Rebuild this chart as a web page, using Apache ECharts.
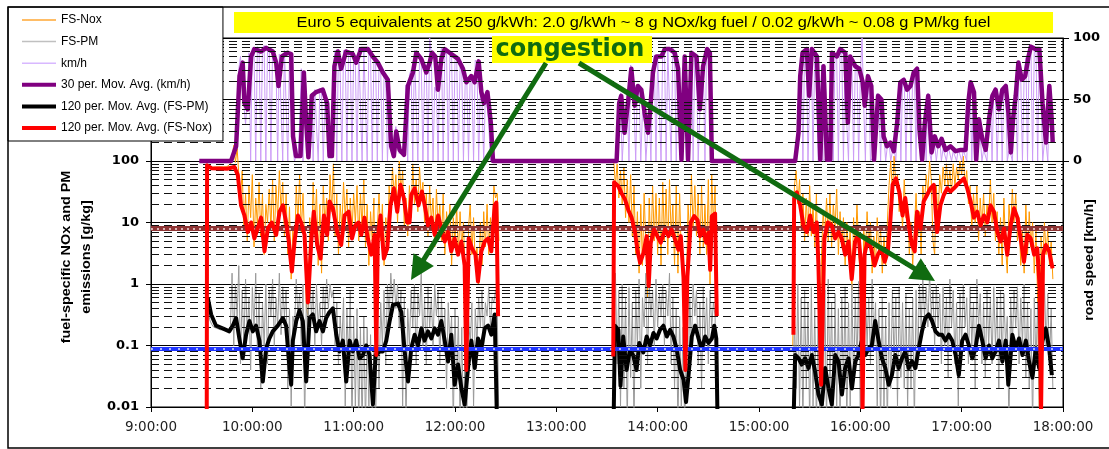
<!DOCTYPE html>
<html><head><meta charset="utf-8">
<script src="https://cdn.jsdelivr.net/npm/echarts@6/dist/echarts.min.js"></script>
<style>html,body{margin:0;padding:0;background:#fff}#c{width:1109px;height:449px}</style>
</head><body><div id="c"></div>
<script>
// x values: minutes after 9:00:00
const hourTicks = ['9:00:00','10:00:00','11:00:00','12:00:00','13:00:00','14:00:00','15:00:00','16:00:00','17:00:00','18:00:00'];
const noxLimit = 8;     // g NOx / kg fuel
const pmLimit = 0.09;   // g PM / kg fuel

// 30 per. moving average of road speed (km/h)
const speedAvg = [[28.6,0],[47.4,0],[50.4,12],[52.4,69],[54.3,80],[55.3,47],[57.3,42],[59.3,85],[61.2,91],[65.2,89],[68.2,92],[72.1,89],[74.1,80],[75.5,61],[77.5,85],[81,88],[83,87],[84.1,20],[85.9,4],[88.5,4],[90.5,72],[91.8,34],[93.2,3],[95.2,53],[97.7,56],[101.7,58],[104.3,47],[105.7,4],[107.1,4],[108.6,77],[110.6,89],[112.6,75],[115.5,89],[119.5,87],[121.5,80],[124.4,91],[128.4,91],[131.3,85],[134.3,80],[137.3,72],[140.2,66],[142.2,12],[143.8,4],[145.2,24],[147.2,9],[149.8,5],[152.1,61],[155.1,72],[157.1,88],[160,83],[163,72],[165,80],[166.4,88],[168.3,85],[169.9,58],[171.9,83],[173.9,91],[177.8,87],[181.8,83],[184.7,75],[186.7,64],[189.6,69],[191.6,64],[194,81],[195.6,56],[197.2,47],[199.2,56],[201.2,31],[202.5,0],
[275.7,0],[277.2,47],[278.4,53],[280.4,23],[282.4,47],[284.4,75],[286.4,45],[288.3,61],[290.3,58],[292.3,39],[294.3,23],[295.6,42],[297.2,72],[299.2,85],[302.2,85],[304.2,91],[307.1,91],[310.1,88],[312.1,75],[314.1,1],[316,85],[318,1],[320,88],[323,85],[325,42],[326.9,77],[329.3,91],[330.9,88],[332.1,0],
[381.4,0],[383.4,23],[384.4,69],[385.8,88],[388.3,91],[389.7,53],[391.3,91],[394.3,85],[396.3,1],[398.2,77],[400.2,1],[402.2,1],[403.2,88],[406.1,85],[408.1,91],[411.1,88],[412.6,31],[414,85],[417,77],[419.4,75],[421.4,64],[422.6,45],[424.5,69],[426.5,61],[428.1,1],[430.5,53],[432.5,50],[433.8,20],[435.8,12],[437.8,15],[439.8,8],[441.8,31],[443.7,64],[445.7,66],[447.7,58],[449.7,61],[451.6,72],[453.6,75],[455,26],[456.6,1],[458.2,31],[460.2,53],[462.2,7],[464.1,20],[466.1,12],[468.1,18],[470.5,9],[473.4,12],[476.4,8],[479.4,9],[482.3,9],[483.9,47],[485.3,64],[487.3,56],[488.6,1],[490.2,34],[492.2,18],[494.2,9],[496.2,34],[498.2,53],[500.1,58],[502.1,42],[504.1,58],[506.1,61],[507.7,39],[509.1,7],[510.4,34],[512,53],[513.6,80],[515.6,66],[517.6,69],[519.6,85],[521,93],[523.6,91],[526,91],[527.9,47],[529.9,15],[531.9,61],[533.3,34],[533.9,15]];

// 120 per. moving average FS-NOx (g/kg), three trips
const noxAvg1 = [[33,0.005],[33.2,85],[36,76],[45,75],[49.4,80],[51.4,59],[53.3,19],[55.3,13],[57.3,7],[59.3,10],[61.2,5.5],[63.2,8],[65.2,12],[67.2,3.4],[69.2,8],[71.5,10],[74.1,6.3],[76.1,15],[78.1,19],[80,10],[81.6,4.9],[83.4,1.6],[85,4.9],[87,13],[88.9,10],[90.9,6.3],[92.9,0.5],[94.9,4.9],[96.4,15],[98.4,4.3],[100.4,2.6],[102.4,13],[104.3,6.3],[105.7,22],[107.7,17],[110.3,7],[112.6,4.3],[114.6,13],[117,15],[119,5.5],[121,9],[122.9,10],[124.5,6.3],[126.4,12],[128.4,5.5],[130.4,3],[132.4,6.3],[133.4,0.07],[134.3,5.5],[135.9,13],[137.9,2.6],[139.9,3.8],[141.8,19],[143.8,36],[145.8,15],[147.7,41],[149.7,25],[151.7,10],[153.1,10],[154.1,28],[156.1,36],[158.4,19],[160.4,32],[162.4,17],[164,9],[166,12],[168,6.3],[170,13],[171.9,8],[173.9,4.9],[175.9,7],[177.8,3.4],[179.8,5.5],[181.8,3],[183.8,4.9],[185.7,2],[186.7,0.04],[188.1,5.5],[190.1,3.8],[192.1,3],[193.6,1.1],[195.6,3.4],[197.6,4.9],[199.6,5.5],[201.5,3.4],[203.5,19],[204.5,21],[205.5,0.3]];
const noxAvg2 = [[273.7,0.066],[274.2,45],[276.7,39],[278.6,30],[280.6,24],[282.6,16],[284.6,12],[286.6,6.8],[288,3.6],[289.6,2.2],[291.6,3.2],[293.5,6],[294.7,0.93],[295.9,4.7],[297.9,7.7],[299.8,6],[301.8,4.7],[304.4,7.7],[306.4,6],[308.3,7.7],[310.3,5.3],[312.3,3.6],[313.7,6],[315.3,1.3],[316.4,0.04],[317.6,1.3],[319.6,10],[321.6,12.7],[323.6,11],[325.1,6],[327.1,7.7],[328.7,4.7],[330.1,6.8],[331.1,1.7],[332.1,12.7],[334,14],[335,0.3]];
const noxAvg3 = [[380.4,0.15],[380.8,25],[382.4,31],[384.4,19],[386.3,9],[388.3,7],[390.3,13],[392.3,7],[394.2,10],[395.2,2],[396.8,0.023],[398.7,5.5],[400.7,10],[403.1,9],[405.1,5.5],[407,7],[409,5.5],[411,3],[413,4.9],[414.9,1.2],[416.9,4.9],[418.9,6.3],[420.5,2],[421.3,0.008],[422.5,3],[424.5,5.5],[426.4,3.8],[428.4,2],[430.4,3],[432.4,3.8],[434.4,2.3],[436.3,3.4],[437.7,10],[439.1,41],[441.1,52],[443.1,31],[445,13],[446.6,25],[448.6,9],[450.6,4.3],[452.2,3.4],[453.6,15],[455.6,8],[457.5,22],[459.5,28],[461.5,36],[463.5,41],[465.5,7],[467.4,19],[469.4,28],[471.4,36],[473.4,32],[475.4,36],[477.3,41],[479.3,46],[481.3,52],[483.3,36],[485.3,22],[487.2,12],[489.2,15],[491.2,9],[493.2,13],[495.2,10],[497.1,19],[499.1,15],[501.1,7],[503.1,4.9],[505.1,8],[507,3],[509,9],[511,17],[513,12],[514.9,5.5],[516.9,2.3],[518.9,6.3],[520.9,5.5],[522.9,3],[524.8,3.8],[526.2,0.85],[527,0.008],[528.2,3],[529.8,4.3],[531.8,3.4],[533.8,1.8]];

// 120 per. moving average FS-PM (g/kg), three trips
const pmAvg1 = [[33.6,0.6],[35.6,0.32],[38.5,0.21],[42.4,0.19],[46.4,0.17],[48.4,0.21],[50.4,0.28],[52.3,0.13],[54.3,0.062],[56.3,0.15],[58.3,0.25],[60.3,0.17],[62.2,0.21],[64.2,0.12],[66.2,0.026],[68.2,0.09],[70.1,0.13],[72.1,0.17],[75.1,0.21],[78.1,0.28],[80,0.21],[82,0.043],[83,0.023],[84,0.12],[86,0.25],[87.9,0.37],[89.9,0.25],[91.9,0.026],[93.9,0.28],[95.8,0.32],[97.8,0.17],[99.8,0.25],[101.8,0.17],[103.7,0.28],[105.7,0.35],[107.7,0.4],[109.7,0.15],[111.6,0.08],[113.6,0.12],[115.6,0.026],[117.6,0.12],[119.5,0.08],[121.5,0.12],[123.5,0.062],[125.5,0.07],[127.4,0.1],[129.4,0.07],[131.4,0.011],[133,0.07],[135.4,0.08],[137.3,0.08],[139.3,0.12],[141.3,0.25],[143.3,0.46],[146.2,0.48],[148.2,0.35],[150.2,0.08],[152.2,0.026],[154.1,0.09],[156.1,0.15],[158.1,0.1],[160.1,0.19],[162,0.12],[164,0.17],[166,0.13],[168,0.19],[169.9,0.15],[171.9,0.25],[173.9,0.12],[175.9,0.055],[177.8,0.15],[179.8,0.023],[181.8,0.049],[183.8,0.02],[185.7,0.011],[187.7,0.043],[189.7,0.12],[191.7,0.043],[193.6,0.13],[195.6,0.09],[197.6,0.19],[199.6,0.21],[201.5,0.15],[203.5,0.32],[204.9,0.005]];
const pmAvg2 = [[273.9,0.005],[274.7,0.21],[276.7,0.18],[278,0.022],[279.6,0.14],[281.6,0.04],[283.6,0.086],[285.6,0.068],[287.5,0.04],[289.1,0.11],[291.5,0.077],[293.5,0.14],[295.5,0.1],[297.5,0.16],[299.4,0.13],[301.4,0.18],[303.4,0.21],[305.4,0.14],[307.4,0.18],[309.3,0.14],[311.3,0.086],[313.3,0.04],[315.3,0.028],[316.8,0.012],[318.4,0.036],[320.2,0.14],[322.2,0.21],[324.2,0.13],[326.1,0.086],[328.1,0.14],[330.1,0.11],[332.1,0.13],[333.5,0.21],[334.7,0.13],[335.5,0.005]];
const pmAvg3 = [[380.4,0.005],[381.4,0.07],[383.4,0.062],[385.3,0.049],[387.3,0.062],[389.3,0.043],[391.3,0.07],[393.2,0.038],[395.2,0.016],[397.2,0.011],[399.2,0.043],[401.2,0.02],[403.1,0.011],[405.1,0.07],[407.1,0.055],[409.1,0.016],[411,0.043],[413,0.062],[415,0.02],[417,0.055],[418.9,0.07],[420.9,0.12],[422.9,0.07],[424.9,0.09],[426.8,0.1],[428.8,0.25],[430.8,0.12],[432.8,0.062],[434.8,0.043],[436.8,0.023],[438.7,0.033],[440.7,0.07],[442.7,0.043],[444.7,0.062],[446.6,0.08],[448.6,0.043],[450.6,0.055],[452.6,0.043],[454.6,0.09],[456.5,0.17],[458.5,0.28],[460.5,0.32],[462.5,0.25],[464.5,0.17],[466.4,0.15],[468.4,0.15],[470.4,0.12],[472.4,0.15],[474.4,0.12],[476.4,0.07],[478.3,0.033],[480.3,0.12],[482.3,0.15],[484.3,0.1],[486.3,0.062],[488.2,0.09],[490.2,0.21],[492.2,0.12],[494.2,0.062],[496.2,0.1],[498.1,0.062],[500.1,0.08],[502.1,0.12],[504.1,0.055],[506.1,0.12],[507.6,0.023],[510,0.15],[512,0.09],[514,0.13],[516,0.07],[518,0.12],[519.9,0.055],[521.9,0.03],[523.9,0.09],[525.9,0.043],[527.9,0.12],[529.8,0.19],[531.8,0.09],[533.4,0.033]];

// raw 1-minute readings, per trip: start minute + values
const speedRaw1Start = 47;
const speedRaw1 = [0,5,10,15,40,75,85,60,45,30, 50,88,0,92,90,0,93,91,0,92, 94,0,90,92,0,91,90,82,0,87, 88,0,90,89,0,88,60,10,0,5, 3,30,75,0,60,20,2,45,55,0, 58,57,0,59,56,0,50,45,2,3, 5,78,90,0,91,72,0,90,88,0, 90,86,0,88,80,0,92,91,0,92, 93,0,90,86,0,83,80,0,78,75, 0,70,66,0,40,10,3,20,28,12, 6,10,4,30,62,0,70,74,0,90, 89,0,85,82,0,73,78,0,100,86, 0,60,55,0,85,92,0,90,88,0, 87,85,0,82,84,0,76,74,0,62, 66,0,70,66,0,82,80,0,57,48, 0,55,45,30,0,2,0];
const speedRaw2Start = 276;
const speedRaw2 = [0,45,55,0,25,40,50,0,78,60, 45,0,62,58,0,40,38,0,22,40, 0,72,86,0,85,86,0,90,92,0, 91,90,0,92,88,0,75,40,1,60, 86,0,2,50,88,0,86,84,0,40, 70,78,0,92,90,88,2,0];
const speedRaw3Start = 381;
const speedRaw3 = [0,10,30,72,88,0,90,92,0,55, 92,0,88,84,0,2,78,0,1,2, 0,1,88,0,86,84,0,92,90,0, 88,30,0,86,80,0,78,76,0,70, 100,45,0,70,62,0,2,1,0,55, 52,0,48,20,0,12,15,0,8,10, 0,30,65,0,66,68,0,58,62,0, 72,74,0,75,26,0,1,31,0,55, 7,0,20,14,0,12,18,0,10,9, 0,12,13,0,8,9,0,10,9,0, 9,10,0,48,64,0,56,1,0,34, 20,0,9,10,0,34,52,0,58,60, 0,42,58,0,60,62,0,8,6,0, 34,55,0,80,66,0,70,84,0,92, 94,0,90,92,0,91,48,0,16,14, 0,60,34,15];

const noxRaw1Start = 33;
const noxRaw1 = [80,82,78,80,79,81,80,78,80,82, 80,79,81,84,90,120,180,95,160,60, 25,70,8,30,5,40,12,60,4,25, 9,45,6,30,3,20,10,35,8,50, 5,40,12,70,15,45,6,30,3,18, 1.2,8,3,40,10,60,7,30,5,0.4, 0.3,12,3,45,8,35,2,20,1.5,40, 9,25,5,60,15,90,6,30,3,20, 8,45,12,35,4,25,7,30,10,40, 5,30,8,50,4,20,2,15,5,25, 0.1,8,30,5,20,2,12,4,40,15, 80,25,60,10,100,30,70,8,25,6, 40,12,90,20,50,15,80,25,45,10, 30,6,40,10,25,4,35,8,20,5, 30,3,15,6,20,2,12,5,18,3, 15,4,10,1.5,0.05,8,20,3,12,2, 4,1,10,2,15,4,20,3,12,5, 40,25,30,5];
const noxRaw2Start = 274;
const noxRaw2 = [100,40,90,25,70,20,80,12,50,10, 60,6,40,3,15,1.5,20,2,30,4, 0.6,25,3,40,5,30,3,25,2,45, 5,35,3,50,6,20,2,40,1.5,30, 3,0.8,0.05,1,20,5,60,8,40,6, 30,3,40,4,20,3,50,1,60,10, 40,0.3];
const noxRaw3Start = 380;
const noxRaw3 = [0.1,40,70,20,50,8,30,5,25,6, 40,6,20,4,30,1,0.03,3,15,6, 25,5,30,4,20,8,35,3,15,4, 12,2,10,3,8,0.8,12,3,20,4, 1,0.01,8,3,15,4,10,1.5,6,2, 12,3,8,1.5,6,2,10,40,100,30, 120,40,60,15,30,8,50,12,20,3, 10,2,8,30,6,15,3,40,20,60, 30,100,50,5,3,40,10,60,30,80, 40,90,35,70,30,90,40,80,50,100, 60,120,40,70,20,40,8,30,10,40, 5,25,8,30,6,20,12,50,10,30, 5,15,3,12,2,25,4,1.5,20,8, 35,10,30,5,12,2,8,1.5,20,3, 15,4,10,1.5,8,0.5,0.01,6,2,10, 3,8,2,5,1.2];

const pmRaw1Start = 33;
const pmRaw1 = [0.55,0.33,0.25,0.22,0.2,0.2,0.19,0.19,0.18,0.18, 0.18,0.17,0.17,0.17,0.2,1.5,0.1,1,0.3,2, 0.05,0.8,0.1,1.2,0.15,0.6,0.04,0.9,0.2,1.5, 0.08,0.7,0.02,0.5,0.1,1,0.05,0.8,0.3,1.2, 0.1,0.6,0.2,1.5,0.15,0.9,0.3,0.8,0.02,0.4, 0.01,0.3,0.2,1.2,0.3,0.7,0.1,1,0.005,0.6, 0.2,1.5,0.3,0.8,0.1,1,0.2,0.5,0.1,0.9, 0.3,1.2,0.4,1,0.6,0.8,0.1,0.5,0.05,0.3, 0.1,0.6,0.01,0.4,0.05,0.8,0.005,0.3,0.01,0.4, 0.005,0.2,0.005,0.3,0.005,0.2,0.01,0.15,0.005,0.1, 0.005,0.3,0.02,0.5,0.1,0.8,0.05,1,0.3,1.5, 0.5,1.2,0.4,1,0.2,0.8,0.01,0.6,0.005,0.4, 0.1,0.8,0.2,1,0.05,0.7,0.3,1.5,0.1,0.6, 0.05,0.9,0.2,0.6,0.1,1,0.3,0.8,0.05,0.6, 0.1,0.4,0.02,0.5,0.1,0.3,0.005,0.4,0.02,0.3, 0.005,0.2,0.005,0.1,0.005,0.3,0.1,0.5,0.01,0.4, 0.1,0.6,0.2,0.8,0.1,0.5,0.3,0.9,0.2,0.6, 0.5,0.8,0.4,0.005];
const pmRaw2Start = 274;
const pmRaw2 = [0.3,1.5,0.05,0.8,0.01,1,0.02,0.6,0.005,0.9, 0.03,0.5,0.005,0.8,0.1,1.2,0.02,0.6,0.2,1.5, 0.05,1,0.3,0.8,0.1,1.2,0.2,0.7,0.3,1, 0.1,0.8,0.3,1.5,0.05,0.6,0.02,0.4,0.005,0.3, 0.01,0.2,0.005,0.1,0.02,0.6,0.1,1,0.3,0.8, 0.05,0.5,0.02,0.9,0.1,0.6,0.05,0.8,0.2,0.5, 0.3,0.005];
const pmRaw3Start = 380;
const pmRaw3 = [0.005,0.3,0.02,1,0.01,0.6,0.005,0.8,0.02,0.5, 0.005,0.9,0.01,0.4,0.005,0.3,0.005,0.6,0.01,0.8, 0.005,1.2,0.02,0.5,0.005,0.7,0.01,0.4,0.005,0.6, 0.02,0.9,0.005,0.5,0.01,1,0.02,0.6,0.05,1.1, 0.005,0.7,0.03,0.8,0.1,0.6,0.05,1.2,0.1,0.5, 0.01,0.4,0.005,0.6,0.01,0.3,0.005,0.5,0.02,0.8, 0.05,0.6,0.01,0.9,0.03,0.5,0.02,0.7,0.01,0.4, 0.02,0.6,0.005,0.8,0.05,1,0.2,1.2,0.3,0.9, 0.2,1.5,0.3,0.8,0.1,1,0.2,0.7,0.05,0.9, 0.1,0.6,0.03,1.2,0.2,0.8,0.05,0.5,0.01,0.7, 0.1,1,0.2,0.6,0.05,0.9,0.1,0.5,0.02,1.2, 0.2,0.7,0.05,0.5,0.03,0.8,0.1,0.6,0.05,0.9, 0.1,0.6,0.02,0.8,0.05,0.7,0.1,0.3,0.005,0.6, 0.1,0.8,0.2,0.9,0.05,0.6,0.1,1,0.03,0.5, 0.02,0.4,0.005,0.6,0.05,0.5,0.01,0.8,0.2,1, 0.1,0.7,0.05,0.4,0.02];

// ---- build series data from the arrays ----
function seg(start, vals){ return vals.map((v,i)=>[start+i, v]); }
function joinSegs(){ const out=[]; for(let i=0;i<arguments.length;i++){ if(i>0) out.push(['-','-']); out.push(...arguments[i]); } return out; }
const speedRaw = joinSegs(seg(speedRaw1Start,speedRaw1), seg(speedRaw2Start,speedRaw2), seg(speedRaw3Start,speedRaw3));
const noxRaw = joinSegs(seg(noxRaw1Start,noxRaw1), seg(noxRaw2Start,noxRaw2), seg(noxRaw3Start,noxRaw3));
const pmRaw = joinSegs(seg(pmRaw1Start,pmRaw1), seg(pmRaw2Start,pmRaw2), seg(pmRaw3Start,pmRaw3));
const noxAvg = joinSegs(noxAvg1, noxAvg2, noxAvg3);
const pmAvg = joinSegs(pmAvg1, pmAvg2, pmAvg3);

const minorVals = [];
for (let k=-2;k<=3;k++) for (let j=2;j<=9;j++) minorVals.push(+(j*Math.pow(10,k)).toPrecision(3));

const chart = echarts.init(document.getElementById('c'), null, {renderer:'canvas'});
const AR = 'Liberation Sans, Arial, sans-serif';
const DJ = 'DejaVu Sans, sans-serif';
const green = '#106b10';

function arrow(x1,y1,x2,y2){
  const dx=x2-x1, dy=y2-y1, L=Math.hypot(dx,dy), ux=dx/L, uy=dy/L;
  const hl=24, hw=12, bx=x2-ux*hl, by=y2-uy*hl;
  return [
    {type:'line', z:50, shape:{x1:x1,y1:y1,x2:bx+ux*2,y2:by+uy*2}, style:{stroke:green, lineWidth:5}},
    {type:'polygon', z:50, shape:{points:[[x2,y2],[bx-uy*hw,by+ux*hw],[bx+uy*hw,by-ux*hw]]}, style:{fill:green}}
  ];
}

const lineBase = {type:'line', showSymbol:false, symbol:'none', animation:false, clip:true, connectNulls:false};

chart.setOption({
  animation:false,
  backgroundColor:'#fff',
  grid:{left:151, right:46, top:38, bottom:42, show:true, borderColor:'#000', borderWidth:1, backgroundColor:'transparent', outerBoundsMode:'none'},
  legend:{
    orient:'vertical', left:8, top:7, padding:[6,11,6,12], itemWidth:34, itemHeight:14, itemGap:7.6,
    backgroundColor:'#fff', borderColor:'#000', borderWidth:1, borderRadius:0, selectedMode:false, z:10,
    itemStyle:{opacity:0, color:'rgba(0,0,0,0)', borderWidth:0},
    textStyle:{fontFamily:AR, fontSize:12, color:'#000', lineHeight:14, height:14},
    data:[
      {name:'FS-Nox', lineStyle:{width:1.5, color:'#ffa733'}},
      {name:'FS-PM', lineStyle:{width:1.5, color:'#c0c0c0'}},
      {name:'km/h', lineStyle:{width:1.5, color:'#d8b8ff'}},
      {name:'30 per. Mov. Avg. (km/h)', lineStyle:{width:4, color:'#800080'}},
      {name:'120 per. Mov. Avg. (FS-PM)', lineStyle:{width:4, color:'#000'}},
      {name:'120 per. Mov. Avg. (FS-Nox)', lineStyle:{width:4, color:'#ff0000'}}
    ]
  },
  xAxis:{type:'value', min:0, max:540, interval:60,
    axisLine:{show:true, onZero:false, lineStyle:{color:'#000', width:1}},
    axisTick:{show:true, length:5, lineStyle:{color:'#000'}},
    axisLabel:{formatter:v=>hourTicks[Math.round(v/60)], fontFamily:DJ, fontSize:13.5, color:'#222', margin:13},
    splitLine:{show:false}},
  yAxis:[
    {type:'log', logBase:10, min:0.01, max:10000,
     axisLine:{show:true, lineStyle:{color:'#000'}},
     axisTick:{show:true, length:5, lineStyle:{color:'#000'}},
     axisLabel:{formatter:v=>{const n=+(+v).toPrecision(3); return n>100?'':String(n);}, fontFamily:DJ, fontWeight:'bold', fontSize:13, color:'#000', margin:12},
     splitLine:{show:true, lineStyle:{color:'#000', width:1}},
     minorTick:{show:false}, minorSplitLine:{show:false}},
    {type:'value', position:'right', min:-200, max:100, interval:50,
     axisLine:{show:true, lineStyle:{color:'#000'}},
     axisTick:{show:true, length:6, customValues:[0,50,100], lineStyle:{color:'#000'}},
     axisLabel:{customValues:[0,50,100], fontFamily:DJ, fontWeight:'bold', fontSize:13, color:'#000', margin:10},
     splitLine:{show:false}}
  ],
  series:[
    Object.assign({}, lineBase, {name:'minor grid', data:[], yAxisIndex:0, z:1, silent:true,
      markLine:{silent:true, symbol:'none', animation:false, label:{show:false},
        lineStyle:{type:[8,5], color:'#111', width:1},
        data:minorVals.map(v=>({yAxis:v}))}}),
    Object.assign({}, lineBase, {name:'FS-Nox', data:noxRaw, yAxisIndex:0, z:2, color:'#ff9900', lineStyle:{color:'#ff9900', width:1}}),
    Object.assign({}, lineBase, {name:'FS-PM', data:pmRaw, yAxisIndex:0, z:2, color:'#9a9a9a', lineStyle:{color:'#9a9a9a', width:1}}),
    Object.assign({}, lineBase, {name:'limits', data:[], yAxisIndex:0, z:2, silent:true,
      markLine:{silent:true, symbol:'none', animation:false, label:{show:false},
        data:[
          {yAxis:noxLimit, lineStyle:{color:'#8e3434', width:5, type:'solid'}},
          {yAxis:noxLimit, lineStyle:{color:'#f3dede', width:1.5, type:[2,4]}},
          {yAxis:pmLimit, lineStyle:{color:'#1f35ff', width:4, type:'solid'}},
          {yAxis:pmLimit, lineStyle:{color:'#a8b4ff', width:2, type:[2,7]}}
        ]}}),
    Object.assign({}, lineBase, {name:'km/h', data:speedRaw, yAxisIndex:1, z:3, color:'#cc9cf6', lineStyle:{color:'#cc9cf6', width:1}}),
    Object.assign({}, lineBase, {name:'30 per. Mov. Avg. (km/h)', data:speedAvg, yAxisIndex:1, z:4, color:'#800080', lineStyle:{color:'#800080', width:4.5, join:'round'}}),
    Object.assign({}, lineBase, {name:'120 per. Mov. Avg. (FS-PM)', data:pmAvg, yAxisIndex:0, z:4, color:'#000', lineStyle:{color:'#000', width:4, join:'round'}}),
    Object.assign({}, lineBase, {name:'120 per. Mov. Avg. (FS-Nox)', data:noxAvg, yAxisIndex:0, z:5, color:'#ff0000', lineStyle:{color:'#ff0000', width:4, join:'round'}})
  ],
  graphic:[
    {type:'rect', z:60, silent:true, shape:{x:8,y:7,width:1130,height:441}, style:{fill:null, stroke:'#000', lineWidth:1.5}},
    {type:'rect', z:40, shape:{x:234,y:12,width:819,height:21}, style:{fill:'#ffff00'}},
    {type:'text', z:41, x:643.5, y:23, scaleX:1.17, style:{text:'Euro 5 equivalents at 250 g/kWh: 2.0 g/kWh ~ 8 g NOx/kg fuel / 0.02 g/kWh ~ 0.08 g PM/kg fuel', font:'14px '+AR, fill:'#000', textAlign:'center', textVerticalAlign:'middle'}},
    {type:'rect', z:45, shape:{x:492,y:36,width:160,height:27}, style:{fill:'#ffff00'}},
    {type:'text', z:46, x:570, y:50, style:{text:'congestion', font:'bold 24px '+DJ, fill:green, textAlign:'center', textVerticalAlign:'middle'}},
    ...arrow(546,63,411,280),
    ...arrow(579,63,935,281),
    {type:'text', z:30, x:76.5, y:257, rotation:Math.PI/2, scaleX:1.15, style:{text:'fuel-specific NOx and PM\nemissions [g/kg]', font:'bold 12.5px '+AR, lineHeight:20, fill:'#000', textAlign:'center', textVerticalAlign:'middle'}},
    {type:'text', z:30, x:1090, y:260, rotation:Math.PI/2, scaleX:1.13, style:{text:'road speed [km/h]', font:'bold 12.5px '+AR, fill:'#000', textAlign:'center', textVerticalAlign:'middle'}}
  ]
});
</script></body></html>
